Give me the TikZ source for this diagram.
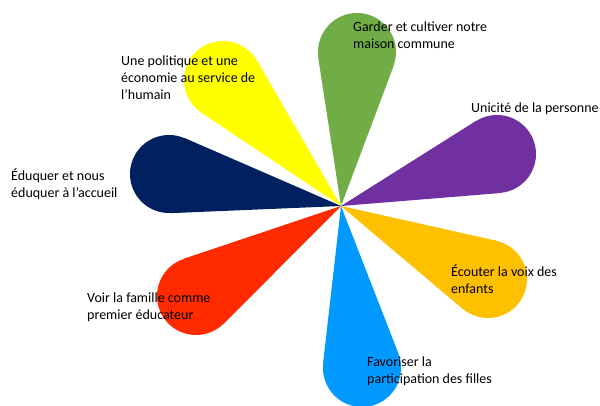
\documentclass[tikz,border=0pt]{standalone}
\usepackage{fontspec}
\setmainfont{Carlito}
\usetikzlibrary{calc}

\definecolor{cnavy}{HTML}{002060}
\definecolor{cyellow}{HTML}{FFFF00}
\definecolor{cgreen}{HTML}{70AD47}
\definecolor{cpurple}{HTML}{7030A0}
\definecolor{cred}{HTML}{FF2A00}
\definecolor{cblue}{HTML}{0099FF}
\definecolor{corange}{HTML}{FFC000}

\tikzset{
  petal/.style={circle,inner sep=0pt,minimum size=78pt},
  lbl/.style={anchor=west,align=left,inner sep=0pt,font=\fontsize{14}{17}\selectfont,text=black}
}

\begin{document}
\begin{tikzpicture}[x=1pt,y=-1pt]
        \useasboundingbox (0,0) rectangle (600,406);
        \coordinate (o) at (341,206);
        \foreach \nm/\col/\px/\py in {educ/cnavy/169/174, polit/cyellow/223/80, garder/cgreen/357/52,
            unic/cpurple/497/154, famil/cred/196/296, fille/cblue/362/368, ecout/corange/488/279} {
            \node[petal,fill=\col] (\nm) at (\px,\py) {};
            \fill[\col] (o) -- (tangent cs:node=\nm,point={(o)},solution=1)
                -- (tangent cs:node=\nm,point={(o)},solution=2) -- cycle;
        }
        \node[lbl] (tpolit) at (121,78) {Une politique et une\\économie au service de\\l’humain};
        \node[lbl] (tgarder) at (353,35.5) {Garder et cultiver notre\\maison commune};
        \node[lbl] (tunic) at (471,109) {Unicité de la personne};
        \node[lbl] (teduc) at (11,184.5) {Éduquer et nous\\éduquer à l’accueil};
        \node[lbl] (tecout) at (451,279.5) {Écouter la voix des\\enfants};
        \node[lbl] (tfille) at (367,371) {Favoriser la\\participation des filles};
        \node[lbl] (tfamil) at (87,307.5) {Voir la famille comme\\premier éducateur};
    \end{tikzpicture}
\end{document}
